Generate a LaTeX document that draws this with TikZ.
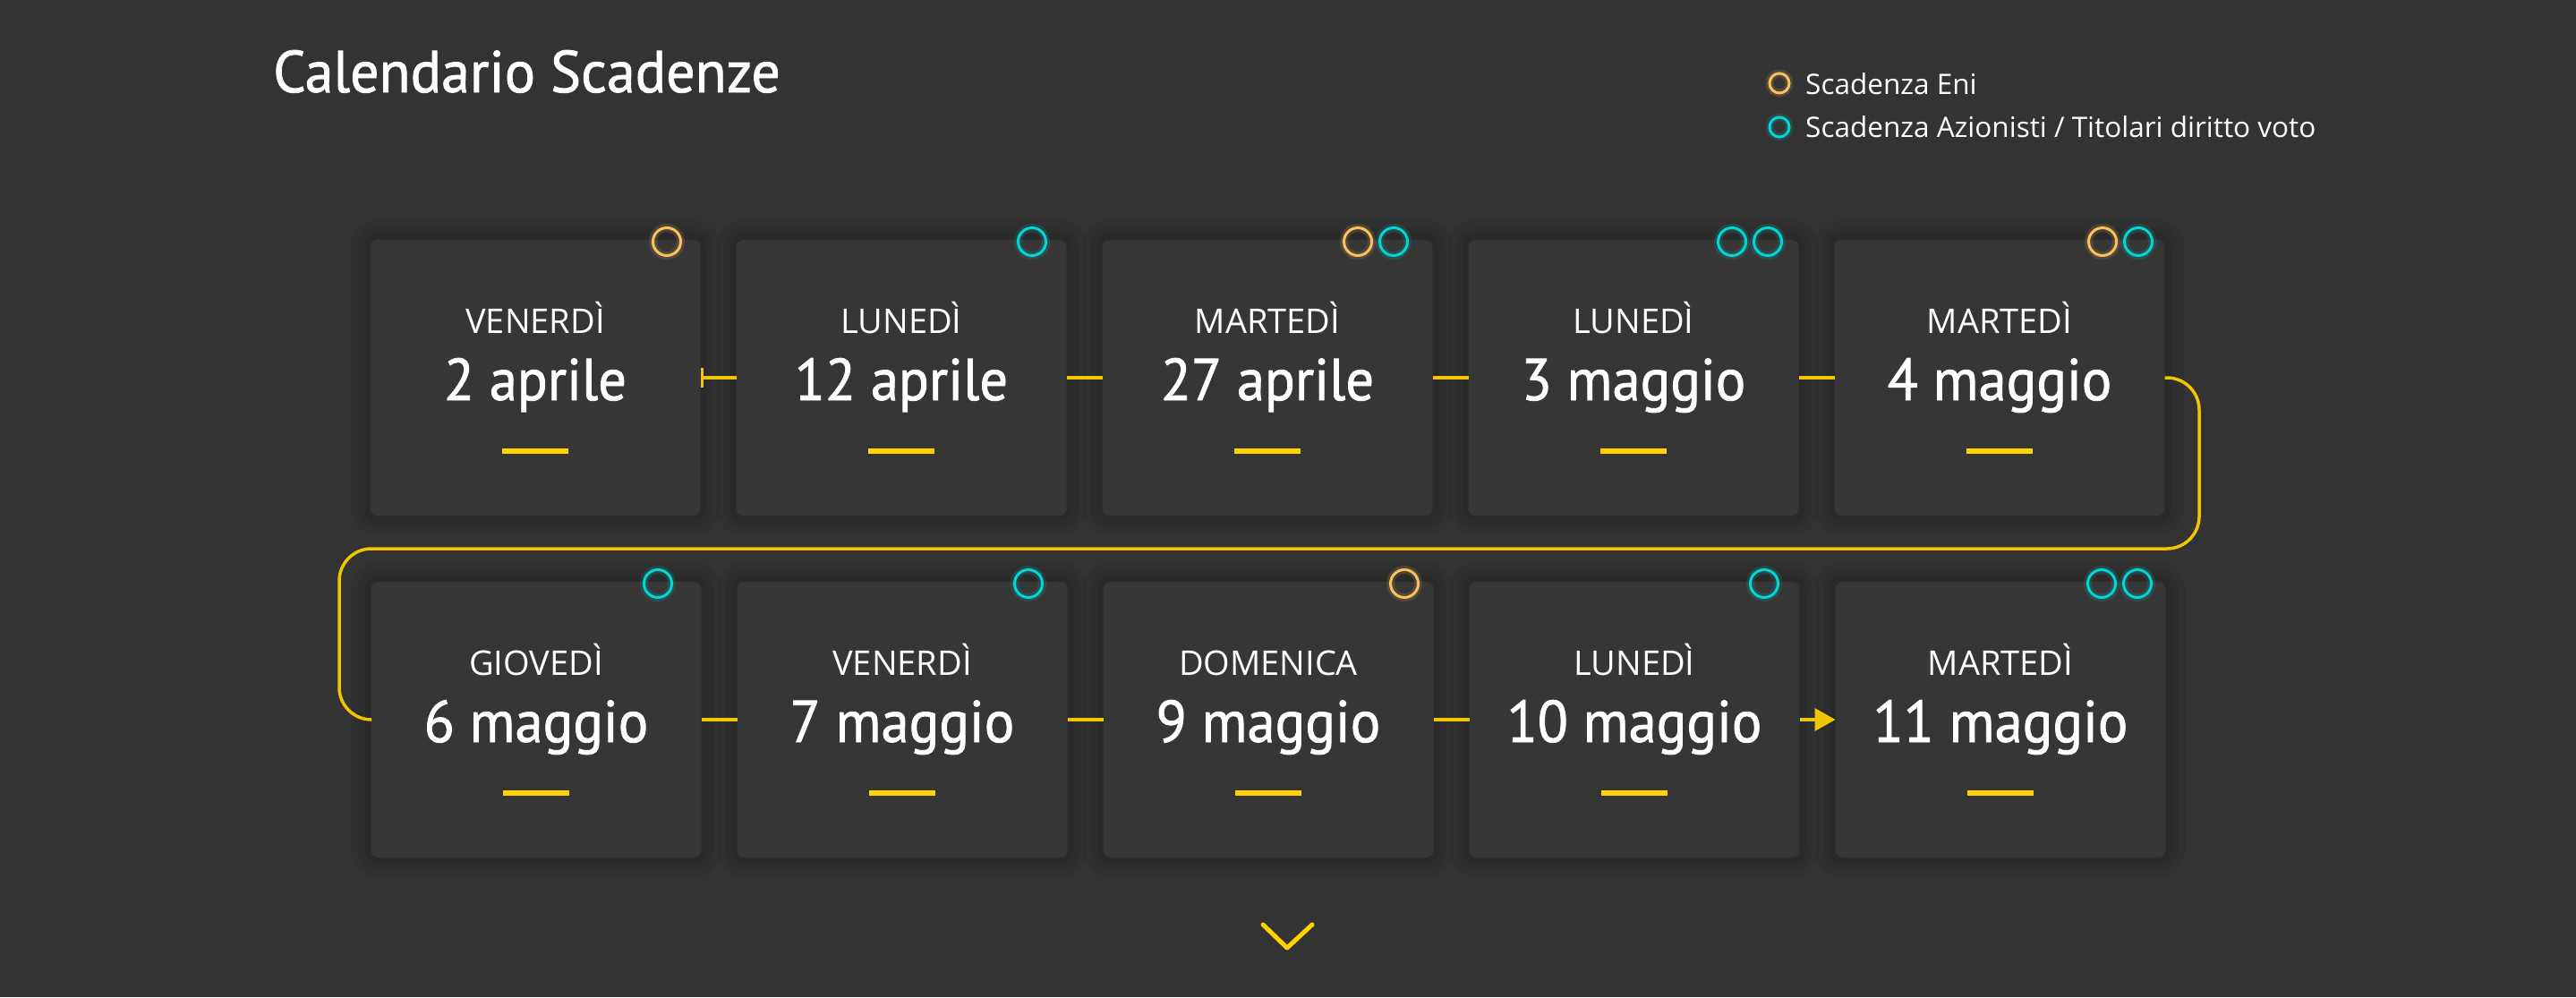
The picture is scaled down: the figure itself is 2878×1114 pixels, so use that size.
\documentclass[tikz,border=0pt]{standalone}
\usepackage{fontspec}
\setmainfont{Open Sans}
\newfontfamily\titlefont[FakeStretch=0.97, FakeBold=1.2]{PT Sans}
\newfontfamily\datefont[FakeStretch=0.95, FakeBold=1.2]{PT Sans}
\usepackage{tikz}
\usetikzlibrary{arrows.meta}
\definecolor{bgcol}{RGB}{51,51,51}
\definecolor{cardcol}{RGB}{54,54,54}
\definecolor{enicol}{RGB}{250,192,92}
\definecolor{azicol}{RGB}{0,214,214}
\definecolor{barcol}{RGB}{255,210,0}
\definecolor{linkcol}{RGB}{240,198,0}
\newcommand{\cardwidth}{369pt}
\newcommand{\cardheight}{308pt}
\tikzstyle{card}=[rectangle, rounded corners=8pt, fill=cardcol, inner sep=0, outer sep=0,
                  minimum width=\cardwidth, minimum height=\cardheight,
                  % soft shadow round each card
                  preaction={draw=black, opacity=0.05, line width=44pt},
                  preaction={draw=black, opacity=0.05, line width=28pt},
                  preaction={draw=black, opacity=0.06, line width=14pt}]
\tikzstyle{daytext}=[anchor=base, inner sep=0, text=white, font=\fontsize{38}{40}\selectfont]
\tikzstyle{datetext}=[anchor=base, inner sep=0, text=white, font=\datefont\fontsize{66}{68}\selectfont]
\tikzstyle{keytext}=[anchor=base west, inner sep=0, text=white, font=\fontsize{31.5}{33}\selectfont]
\tikzstyle{bar}=[rectangle, fill=barcol, inner sep=0, minimum width=74pt, minimum height=6pt]
\tikzstyle{dotmark}=[circle, inner sep=0, minimum size=31pt, line width=3pt]
\tikzstyle{eni}=[dotmark, draw=enicol, preaction={draw=enicol, opacity=0.15, line width=9pt}]
\tikzstyle{azi}=[dotmark, draw=azicol, preaction={draw=azicol, opacity=0.15, line width=9pt}]
\tikzstyle{link}=[draw=linkcol, line width=3.5pt]
\begin{document}
\begin{tikzpicture}[x=1pt, y=-1pt]
    \fill[bgcol] (0,0) rectangle (2878,1114);
    \useasboundingbox (0,0) rectangle (2878,1114);
    \node[anchor=base west, inner sep=0, text=white, font=\titlefont\fontsize{66}{70}\selectfont] (title) at (305,103) {Calendario Scadenze};
    % legend
    \node[eni, minimum size=22pt] (keyeni) at (1988,93) {};
    \node[azi, minimum size=22pt] (keyazi) at (1988,142) {};
    \node[keytext] (lblEni) at (2017,105) {Scadenza Eni};
    \node[keytext] (lblAzi) at (2017,153) {Scadenza Azionisti / Titolari diritto voto};
    % cards
    \foreach \n/\cx/\cy/\dayname/\daydate in {1/598/422/VENERDÌ/2 aprile, 2/1007/422/LUNEDÌ/12 aprile,
        3/1416/422/MARTEDÌ/27 aprile, 4/1825/422/LUNEDÌ/3 maggio, 5/2234/422/MARTEDÌ/4 maggio,
        6/599/804/GIOVEDÌ/6 maggio, 7/1008/804/VENERDÌ/7 maggio, 8/1417/804/DOMENICA/9 maggio,
        9/1826/804/LUNEDÌ/10 maggio, 10/2235/804/MARTEDÌ/11 maggio} {
        \node[card] (c\n) at (\cx,\cy) {};
        \node[daytext] (d\n) at (\cx,\cy-50) {\dayname};
        \node[datetext] (t\n) at (\cx,\cy+25) {\daydate};
        \node[bar] (b\n) at (\cx,\cy+82) {};
    }
    % deadline marks
    \node[eni] (m1) at (745,270) {};
    \node[azi] (m2) at (1153,270) {};
    \node[eni] (m3a) at (1517,270) {};
    \node[azi] (m3b) at (1557,270) {};
    \node[azi] (m4a) at (1935,270) {};
    \node[azi] (m4b) at (1975,270) {};
    \node[eni] (m5a) at (2349,270) {};
    \node[azi] (m5b) at (2389,270) {};
    \node[azi] (m6) at (735,652) {};
    \node[azi] (m7) at (1149,652) {};
    \node[eni] (m8) at (1569,652) {};
    \node[azi] (m9) at (1971,652) {};
    \node[azi] (m10a) at (2348,652) {};
    \node[azi] (m10b) at (2388,652) {};
    % timeline
    \coordinate (turnR) at (2457,613);
    \coordinate (turnL) at (379,613);
    \draw[link, {Bar[width=22pt]}-] (c1.east) -- (c2.west);
    \draw[link] (c2.east) -- (c3.west);
    \draw[link] (c3.east) -- (c4.west);
    \draw[link] (c4.east) -- (c5.west);
    \draw[link, rounded corners=36pt] (c5.east) -| (turnR) -- (turnL) |- (c6.west);
    \draw[link] (c6.east) -- (c7.west);
    \draw[link] (c7.east) -- (c8.west);
    \draw[link] (c8.east) -- (c9.west);
    \draw[link, -{Triangle[length=23pt, width=25pt]}] (c9.east) -- (c10.west);
    % scroll hint
    \draw[barcol, line width=5pt, line cap=round, line join=round] (1411,1033) -- (1438,1059) -- (1466,1033);
\end{tikzpicture}
\end{document}
